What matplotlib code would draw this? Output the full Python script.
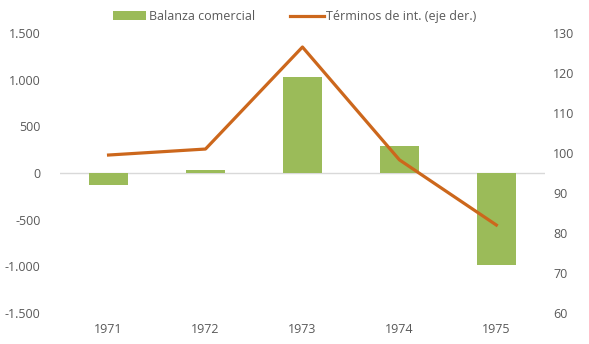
import matplotlib.pyplot as plt
import numpy as np

years = ["1971", "1972", "1973", "1974", "1975"]
balanza = [-130, 30, 1030, 290, -990]
terminos = [99.5, 101, 126.5, 98.3, 82]

left_ticks = [-1500, -1000, -500, 0, 500, 1000, 1500]
left_labels = ["-1.500", "-1.000", "-500", "0", "500", "1.000", "1.500"]
right_ticks = [60, 70, 80, 90, 100, 110, 120, 130]

green = "#9BBB59"
orange = "#CC671C"
grey = "#595959"

plt.rcParams["font.family"] = ["Open Sans", "DejaVu Sans"]

fig = plt.figure(figsize=(5.89, 3.44), dpi=100)
ax = fig.add_axes([0.102, 0.090, 0.823, 0.814])
x = np.arange(len(years))

bars = ax.bar(x, balanza, width=0.4, color=green, zorder=2, label="Balanza comercial")
ax.axhline(0, color="#D9D9D9", linewidth=1, zorder=1)
ax.set_xlim(-0.5, len(years) - 0.5)
ax.set_ylim(-1500, 1500)
ax.set_yticks(left_ticks)
ax.set_yticklabels(left_labels)
ax.set_xticks(x)
ax.set_xticklabels(years)
ax.tick_params(length=0, colors=grey, labelsize=9)
ax.tick_params(axis="y", pad=14)
ax.tick_params(axis="x", pad=7)
for s in ax.spines.values():
    s.set_visible(False)

ax2 = ax.twinx()
line, = ax2.plot(x, terminos, color=orange, linewidth=2.3, zorder=3, label="Términos de int. (eje der.)")
ax2.set_ylim(60, 130)
ax2.set_yticks(right_ticks)
ax2.tick_params(length=0, colors=grey, labelsize=9, pad=6)
for s in ax2.spines.values():
    s.set_visible(False)

fig.legend([bars, line], ["Balanza comercial", "Términos de int. (eje der.)"],
           loc="center", bbox_to_anchor=(0.5, 0.952), ncol=2, frameon=False,
           fontsize=9, labelcolor=grey, handlelength=2.7, handletextpad=0.2,
           columnspacing=2.8)

fig.savefig("out.png", dpi=100)
